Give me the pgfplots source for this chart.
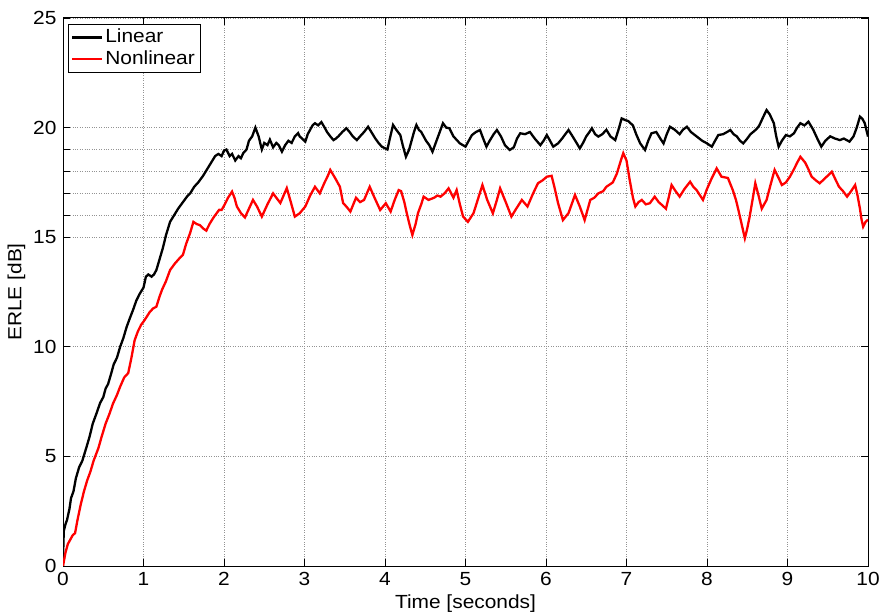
\documentclass[border=0pt]{standalone}
\usepackage{pgfplots}
\pgfplotsset{compat=1.18}
\usepackage{fontspec}
\setmainfont{Liberation Sans}[FakeStretch=1.1]
\newcommand\chartfont{\fontsize{19bp}{22bp}\selectfont}
\begin{document}
\chartfont
\begin{tikzpicture}
\begin{axis}[
  scale only axis,
  width=805bp, height=548bp,
  xmin=0, xmax=10, ymin=0, ymax=25,
  xtick={0,1,...,10},
  ytick={0,5,10,15,20,25},
  minor ytick={16,17,18,19},
  grid=both,
  major grid style={dotted, gray!85, line width=0.6bp},
  minor grid style={dotted, gray!85, line width=0.6bp},
  tick align=inside,
  major tick length=7bp, minor tick length=7bp,
  every tick/.style={black, line width=0.8bp},
  axis line style={line width=1bp},
  /pgf/number format/assume math mode=true,
  ticklabel style={font=\chartfont},
  label style={font=\chartfont},
  xlabel={Time [seconds]},
  ylabel={ERLE [dB]},
  xlabel style={yshift=4bp},
  ylabel style={yshift=-5bp},
  legend style={at={(0.006,0.989)}, anchor=north west, draw=black,
    font=\chartfont, inner xsep=3bp, inner ysep=3bp, row sep=1bp},
  legend cell align=left,
  legend image code/.code={\draw[#1] (0bp,0bp) -- (30bp,0bp);},
]
\coordinate (ll) at (rel axis cs:0,0);
\coordinate (ur) at (rel axis cs:1,1);
\addplot[black, line width=2.3bp] coordinates {
(0,0) (0.005,1.0) (0.01,1.6) (0.03,1.9) (0.05,2.1) (0.08,2.6) (0.1,3.1) (0.13,3.4) (0.16,4.0) (0.2,4.5) (0.24,4.8) (0.29,5.4) (0.33,5.9) (0.37,6.5) (0.42,7.0) (0.46,7.43) (0.5,7.7) (0.53,8.1) (0.56,8.3) (0.6,8.8) (0.63,9.2) (0.67,9.5) (0.71,10.0) (0.75,10.4) (0.79,10.9) (0.83,11.3) (0.87,11.68) (0.91,12.1) (0.95,12.4) (1.0,12.7) (1.03,13.2) (1.06,13.3) (1.1,13.2) (1.13,13.3) (1.16,13.5) (1.2,14.0) (1.24,14.5) (1.28,15.1) (1.33,15.7) (1.38,16.0) (1.43,16.3) (1.49,16.6) (1.54,16.85) (1.58,17.0) (1.63,17.3) (1.68,17.5) (1.74,17.8) (1.79,18.1) (1.84,18.4) (1.89,18.7) (1.93,18.8) (1.97,18.7) (2.0,18.95) (2.03,19.0) (2.07,18.7) (2.1,18.8) (2.14,18.5) (2.18,18.7) (2.21,18.6) (2.24,18.84) (2.28,19.0) (2.31,19.4) (2.35,19.6) (2.39,20.0) (2.43,19.6) (2.47,19.0) (2.5,19.3) (2.54,19.2) (2.57,19.45) (2.61,19.1) (2.65,19.3) (2.68,19.2) (2.72,18.9) (2.76,19.2) (2.8,19.4) (2.84,19.3) (2.88,19.6) (2.92,19.75) (2.94,19.6) (3.01,19.36) (3.04,19.7) (3.07,19.9) (3.1,20.1) (3.13,20.2) (3.17,20.1) (3.21,20.25) (3.25,20.0) (3.28,19.8) (3.32,19.6) (3.36,19.43) (3.39,19.5) (3.42,19.6) (3.47,19.8) (3.52,19.97) (3.56,19.8) (3.6,19.6) (3.65,19.43) (3.69,19.6) (3.74,19.8) (3.79,20.04) (3.83,19.8) (3.88,19.5) (3.92,19.3) (3.96,19.13) (4.03,19.0) (4.06,19.5) (4.1,20.12) (4.14,19.9) (4.19,19.66) (4.22,19.2) (4.26,18.67) (4.3,19.0) (4.33,19.4) (4.36,19.8) (4.39,20.12) (4.42,19.9) (4.45,19.8) (4.51,19.4) (4.55,19.2) (4.59,18.9) (4.63,19.3) (4.68,19.8) (4.72,20.2) (4.76,20.0) (4.8,19.97) (4.85,19.6) (4.9,19.4) (4.93,19.28) (5.0,19.13) (5.04,19.4) (5.08,19.66) (5.13,19.8) (5.18,19.89) (5.22,19.5) (5.26,19.13) (5.3,19.4) (5.35,19.7) (5.39,19.89) (5.44,19.6) (5.49,19.2) (5.55,18.98) (5.6,19.1) (5.64,19.5) (5.68,19.74) (5.74,19.7) (5.8,19.8) (5.86,19.5) (5.93,19.2) (5.97,19.4) (6.01,19.66) (6.05,19.4) (6.09,19.13) (6.15,19.28) (6.2,19.5) (6.24,19.7) (6.28,19.89) (6.33,19.6) (6.38,19.3) (6.42,19.05) (6.46,19.3) (6.5,19.6) (6.54,19.8) (6.57,19.97) (6.61,19.7) (6.65,19.59) (6.7,19.7) (6.75,19.9) (6.8,19.6) (6.86,19.43) (6.9,19.9) (6.94,20.42) (6.98,20.35) (7.02,20.3) (7.08,20.1) (7.12,19.7) (7.17,19.28) (7.23,18.98) (7.27,19.4) (7.31,19.74) (7.37,19.8) (7.42,19.5) (7.46,19.28) (7.5,19.7) (7.54,20.04) (7.6,19.9) (7.66,19.7) (7.7,19.9) (7.75,20.04) (7.8,19.8) (7.87,19.6) (7.94,19.4) (8.0,19.28) (8.06,19.13) (8.1,19.4) (8.14,19.66) (8.2,19.7) (8.25,19.8) (8.29,19.89) (8.33,19.7) (8.37,19.6) (8.41,19.4) (8.45,19.28) (8.5,19.5) (8.54,19.7) (8.58,19.82) (8.62,19.95) (8.65,20.1) (8.7,20.5) (8.74,20.8) (8.78,20.6) (8.83,20.2) (8.86,19.6) (8.89,19.13) (8.93,19.4) (8.98,19.66) (9.03,19.6) (9.08,19.74) (9.12,20.0) (9.16,20.2) (9.21,20.1) (9.26,20.27) (9.32,19.9) (9.37,19.5) (9.42,19.13) (9.47,19.4) (9.53,19.6) (9.59,19.5) (9.65,19.43) (9.7,19.5) (9.77,19.36) (9.82,19.6) (9.86,20.0) (9.9,20.5) (9.93,20.4) (9.96,20.2) (10.0,19.59)
};
\addlegendentry{Linear}
\addplot[red, line width=2.3bp] coordinates {
(0,0) (0.02,0.4) (0.03,0.6) (0.06,1.0) (0.09,1.2) (0.12,1.4) (0.15,1.5) (0.18,2.1) (0.22,2.8) (0.26,3.4) (0.3,3.9) (0.34,4.3) (0.38,4.8) (0.44,5.38) (0.48,5.9) (0.53,6.5) (0.58,6.97) (0.62,7.4) (0.67,7.8) (0.71,8.18) (0.76,8.6) (0.81,8.8) (0.85,9.5) (0.89,10.3) (0.93,10.7) (0.97,11.0) (1.01,11.2) (1.04,11.37) (1.08,11.6) (1.12,11.75) (1.16,11.83) (1.2,12.3) (1.23,12.6) (1.28,13.0) (1.33,13.5) (1.39,13.8) (1.45,14.05) (1.49,14.2) (1.53,14.7) (1.58,15.2) (1.62,15.7) (1.66,15.6) (1.7,15.55) (1.74,15.4) (1.78,15.3) (1.82,15.6) (1.87,15.9) (1.91,16.1) (1.94,16.25) (1.97,16.24) (2.01,16.5) (2.05,16.8) (2.1,17.08) (2.13,16.8) (2.16,16.4) (2.21,16.1) (2.26,15.9) (2.31,16.3) (2.36,16.7) (2.41,16.4) (2.47,15.94) (2.54,16.5) (2.61,17.0) (2.65,16.8) (2.7,16.56) (2.74,16.9) (2.78,17.24) (2.83,16.6) (2.88,15.94) (2.94,16.09) (3.01,16.4) (3.07,16.9) (3.13,17.3) (3.19,17.0) (3.25,17.5) (3.29,17.8) (3.32,18.07) (3.38,17.7) (3.44,17.3) (3.48,16.55) (3.52,16.4) (3.57,16.17) (3.64,16.8) (3.69,16.6) (3.74,16.7) (3.81,17.3) (3.87,16.8) (3.94,16.24) (4.01,16.55) (4.07,16.17) (4.12,16.7) (4.17,17.15) (4.2,17.1) (4.24,16.6) (4.27,16.1) (4.31,15.5) (4.34,15.1) (4.38,15.6) (4.41,16.1) (4.45,16.5) (4.48,16.85) (4.54,16.7) (4.61,16.8) (4.65,16.9) (4.69,16.85) (4.74,17.0) (4.79,17.23) (4.85,16.8) (4.89,17.15) (4.93,16.5) (4.97,15.94) (5.03,15.7) (5.1,16.1) (5.16,16.8) (5.21,17.38) (5.27,16.7) (5.34,16.09) (5.39,16.7) (5.43,17.23) (5.5,16.6) (5.57,15.94) (5.63,16.3) (5.7,16.7) (5.77,16.4) (5.84,17.0) (5.9,17.46) (5.96,17.6) (6.01,17.76) (6.07,17.8) (6.11,17.2) (6.15,16.55) (6.21,15.78) (6.28,16.1) (6.36,16.93) (6.42,16.4) (6.48,15.78) (6.55,16.7) (6.6,16.8) (6.65,17.0) (6.71,17.1) (6.75,17.3) (6.83,17.5) (6.88,17.9) (6.93,18.5) (6.96,18.83) (7.0,18.5) (7.04,17.6) (7.08,16.8) (7.11,16.4) (7.15,16.6) (7.19,16.7) (7.24,16.5) (7.29,16.55) (7.35,16.85) (7.4,16.6) (7.44,16.47) (7.49,16.3) (7.53,16.9) (7.56,17.38) (7.61,17.1) (7.66,16.85) (7.72,17.2) (7.79,17.53) (7.83,17.3) (7.87,17.15) (7.95,16.7) (8.0,17.2) (8.06,17.7) (8.12,18.14) (8.18,17.76) (8.26,17.7) (8.32,17.15) (8.36,16.7) (8.39,16.24) (8.43,15.6) (8.47,14.95) (8.5,15.4) (8.53,15.94) (8.57,16.8) (8.6,17.46) (8.64,16.9) (8.68,16.3) (8.74,16.7) (8.79,17.4) (8.84,18.07) (8.89,17.7) (8.93,17.38) (8.98,17.5) (9.03,17.76) (9.08,18.1) (9.12,18.4) (9.16,18.67) (9.22,18.4) (9.26,18.1) (9.3,17.76) (9.35,17.6) (9.4,17.46) (9.47,17.7) (9.55,17.99) (9.6,17.6) (9.64,17.3) (9.69,17.1) (9.74,16.85) (9.79,17.1) (9.84,17.38) (9.87,16.9) (9.9,16.3) (9.92,15.8) (9.94,15.48) (9.97,15.7) (10.0,15.8)
};
\addlegendentry{Nonlinear}
\end{axis}
\pgfresetboundingbox
\path ([xshift=-63bp,yshift=-49bp]ll) rectangle ([xshift=14bp,yshift=18bp]ur);
\end{tikzpicture}
\end{document}
